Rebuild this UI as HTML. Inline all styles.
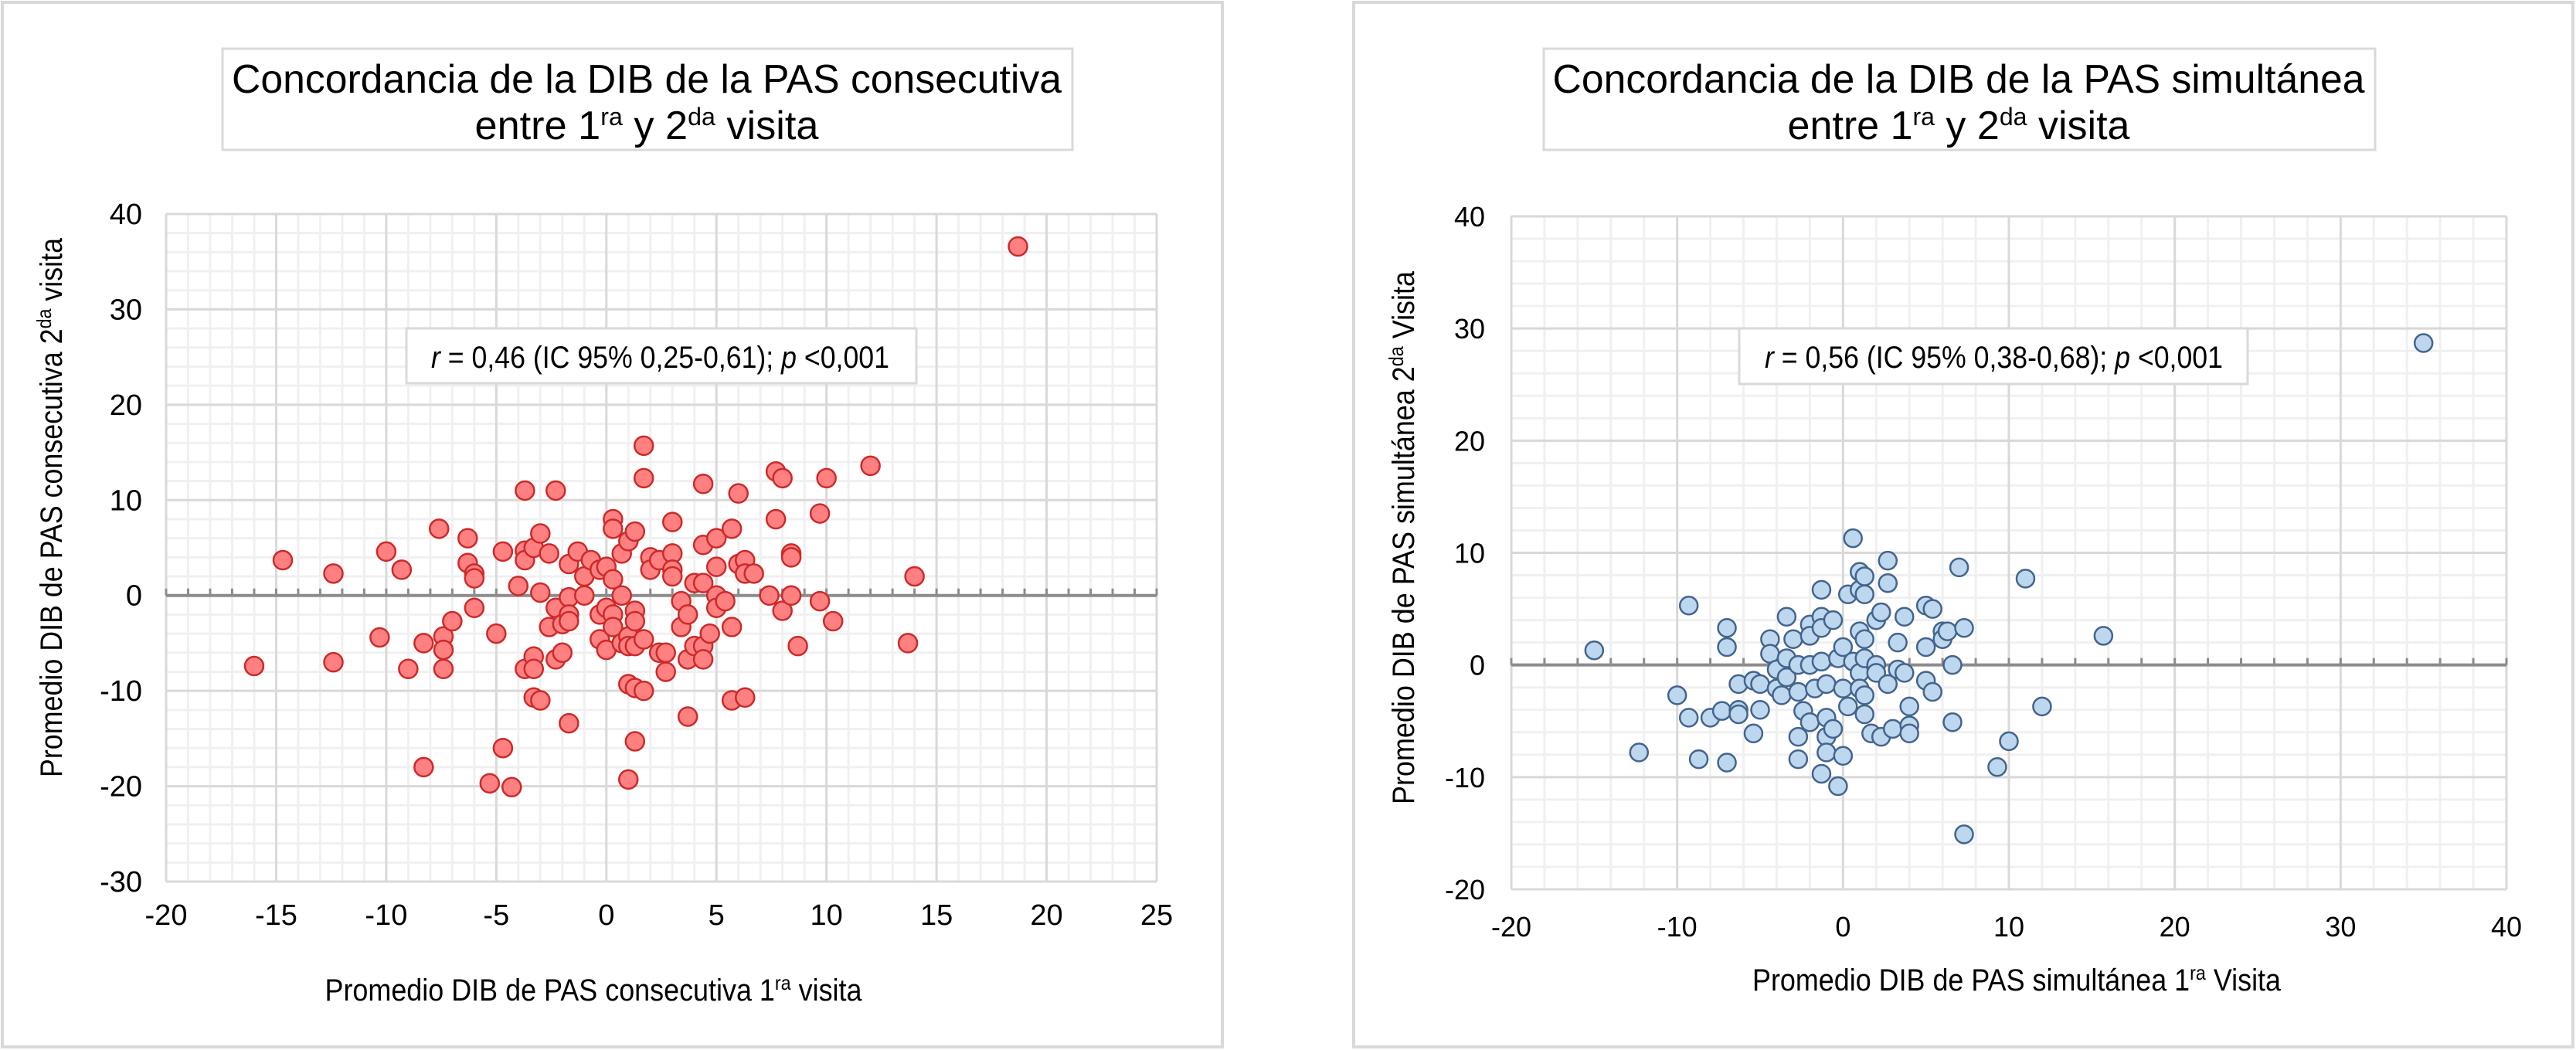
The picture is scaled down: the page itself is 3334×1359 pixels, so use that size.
<!DOCTYPE html>
<html><head><meta charset="utf-8"><style>
html,body{margin:0;padding:0;background:#fff;width:3334px;height:1359px;overflow:hidden}
svg{display:block;font-family:"Liberation Sans",Arial,sans-serif}
</style></head><body>
<svg id="svg" width="3334" height="1359" viewBox="0 0 3334 1359" xmlns="http://www.w3.org/2000/svg">
<rect x="3" y="3" width="1579" height="1352" fill="#fff" stroke="#d9d9d9" stroke-width="4"/>
<rect x="1752" y="3" width="1578" height="1352" fill="#fff" stroke="#d9d9d9" stroke-width="4"/>
<g id="gL"></g>
<g id="gR"></g>

<rect x="288" y="63" width="1100" height="131" fill="#fff" stroke="#d9d9d9" stroke-width="3"/>
<text x="837" y="120" font-size="52" text-anchor="middle" textLength="1074" lengthAdjust="spacingAndGlyphs">Concordancia de la DIB de la PAS consecutiva</text>
<text x="837" y="180" font-size="52" text-anchor="middle" textLength="445" lengthAdjust="spacingAndGlyphs">entre 1<tspan font-size="32" dy="-18">ra</tspan><tspan dy="18"> y 2</tspan><tspan font-size="32" dy="-18">da</tspan><tspan dy="18"> visita</tspan></text>

<rect x="1998" y="63" width="1076" height="131" fill="#fff" stroke="#d9d9d9" stroke-width="3"/>
<text x="2535" y="120" font-size="52" text-anchor="middle" textLength="1051" lengthAdjust="spacingAndGlyphs">Concordancia de la DIB de la PAS simultánea</text>
<text x="2535" y="180" font-size="52" text-anchor="middle" textLength="443" lengthAdjust="spacingAndGlyphs">entre 1<tspan font-size="32" dy="-18">ra</tspan><tspan dy="18"> y 2</tspan><tspan font-size="32" dy="-18">da</tspan><tspan dy="18"> visita</tspan></text>

<rect x="526" y="425" width="660" height="71" fill="#fff" stroke="#d9d9d9" stroke-width="3"/>
<text x="558" y="476" font-size="40" textLength="593" lengthAdjust="spacingAndGlyphs"><tspan font-style="italic">r</tspan> = 0,46 (IC 95% 0,25-0,61); <tspan font-style="italic">p</tspan> &lt;0,001</text>
<rect x="2251" y="425" width="658" height="72" fill="#fff" stroke="#d9d9d9" stroke-width="3"/>
<text x="2284" y="476" font-size="40" textLength="593" lengthAdjust="spacingAndGlyphs"><tspan font-style="italic">r</tspan> = 0,56 (IC 95% 0,38-0,68); <tspan font-style="italic">p</tspan> &lt;0,001</text>

<text x="768" y="1295" font-size="40" text-anchor="middle" textLength="695" lengthAdjust="spacingAndGlyphs">Promedio DIB de PAS consecutiva 1<tspan font-size="26" dy="-14">ra</tspan><tspan dy="14"> visita</tspan></text>
<text transform="translate(80,657) rotate(-90)" font-size="40" text-anchor="middle" textLength="698" lengthAdjust="spacingAndGlyphs">Promedio DIB de PAS consecutiva 2<tspan font-size="26" dy="-14">da</tspan><tspan dy="14"> visita</tspan></text>
<text x="2610" y="1282" font-size="40" text-anchor="middle" textLength="684" lengthAdjust="spacingAndGlyphs">Promedio DIB de PAS simultánea 1<tspan font-size="26" dy="-14">ra</tspan><tspan dy="14"> Visita</tspan></text>
<text transform="translate(1830,696) rotate(-90)" font-size="40" text-anchor="middle" textLength="690" lengthAdjust="spacingAndGlyphs">Promedio DIB de PAS simultánea 2<tspan font-size="26" dy="-14">da</tspan><tspan dy="14"> Visita</tspan></text>
</svg>
<script>
const leftX=[18.7,-14.7,-12.4,-16,-12.4,-10.3,-10,-9.3,-9,-8.3,-8.3,-7.6,-7.4,-7.4,-7.4,-7,-6.3,-6.3,-6,-6,-6,-5,-5.3,-4.7,-4.7,-4.3,-4,-3.7,-3.7,-3.7,-3.7,-3.3,-3.3,-3.3,-3.3,-3,-3,-3,-2.6,-2.6,-2.3,-2.3,-2.3,-2,-2,-1.7,-1.7,-1.7,-1.7,-1.7,-1.3,-1,-1,-0.7,-0.3,-0.3,-0.3,0,0,0,0.3,0.3,0.3,0.3,0.3,0.7,0.7,0.7,1,1,1,1,1,1.3,1.3,1.3,1.3,1.3,1.3,1.7,1.7,1.7,1.7,2,2,2.4,2.4,2.7,2.7,3,3,3,3,3.4,3.4,3.7,3.7,3.7,4,4,4.4,4.4,4.4,4.4,4.4,4.7,5,5,5,5,5.4,5.7,5.7,5.7,6,6,6.3,6.3,6.3,6.7,7.4,7.7,7.7,8,8,8.4,8.4,8.4,8.7,9.7,9.7,10,10.3,12,13.7,14];
const leftY=[36.6,3.7,2.3,-7.4,-7,-4.4,4.6,2.7,-7.7,-5,-18,7,-4.3,-5.7,-7.7,-2.7,6,3.4,2.3,1.8,-1.3,-4,-19.7,4.6,-16,-20.1,1,11,4.7,3.7,-7.7,5,-6.4,-7.7,-10.7,6.5,0.3,-11,4.4,-3.3,11,-1.3,-6.7,-3,-6,3.3,-0.2,-2,-2.7,-13.4,4.6,2,0,3.7,2.7,-2,-4.6,3,-1.3,-5.7,8,7,1.7,-2,-3.3,4.4,0,-5,5.7,-4.3,-5.3,-9.3,-19.3,6.7,-1.6,-2.7,-5.3,-9.7,-15.3,15.7,12.3,-4.6,-10,4,2.7,3.7,-6,-6,-8,7.7,4.4,2.7,2,-0.6,-3.3,-2,-6.7,-12.7,1.3,-5.3,11.7,5.3,1.3,-5.3,-6.7,-4,3,0,-1.3,6,-0.6,7,-3.3,-11,10.7,3.3,3.7,2.3,-10.7,2.3,0,13,8,12.3,-1.6,4.4,4,0,-5.3,8.6,-0.6,12.3,-2.7,13.6,-5,2];
const rightX=[35,-15,-12.3,-10,-9.3,-9.3,-8.7,-8,-7.3,-7,-7,-7,-6.3,-6.3,-6.3,-5.4,-5.4,-5,-5,-4.4,-4.4,-4,-4,-3.7,-3.4,-3.4,-3.4,-3,-2.7,-2.7,-2.7,-2.7,-2.4,-2,-2,-2,-2,-1.7,-1.3,-1.3,-1.3,-1.3,-1.3,-1,-1,-1,-1,-0.6,-0.6,-0.3,-0.3,0,0,0,0.3,0.3,0.6,0.6,1,1,1,1,1,1.3,1.3,1.3,1.3,1.3,1.3,1.7,2,2,2,2.3,2.3,2.7,2.7,2.7,3,3.3,3.3,3.7,3.7,4,4,4,5,5,5,5.4,5.4,6,6,6.3,6.6,6.6,7,7.3,7.3,9.3,10,11,12,15.7];
const rightY=[28.7,1.3,-7.8,-2.7,5.3,-4.7,-8.4,-4.7,-4.1,3.3,1.6,-8.7,-1.7,-4,-4.4,-1.4,-6.1,-1.7,-4,2.3,1,-0.4,-2.1,-2.7,4.3,0.6,-1.1,2.3,0,-2.4,-6.4,-8.4,-4.1,3.6,0,-5.1,2.6,-2.1,6.7,4.3,3.3,0.3,-9.7,-1.7,-4.7,-6.4,-7.8,4,-5.7,0.6,-10.8,1.6,-2.1,-8.1,6.3,-3.7,11.3,0.3,8.3,6.7,3,-0.7,-2.1,7.9,6.3,2.3,0.6,-2.7,-4.4,-6.1,4,0,-0.7,4.7,-6.4,9.3,7.3,-1.7,-5.7,2,-0.4,4.3,-0.7,-3.7,-5.4,-6.1,5.3,1.6,-1.4,5,-2.4,3,2.3,3,0,-5.1,8.7,3.3,-15.1,-9.1,-6.8,7.7,-3.7,2.6];
const leftXTicks=["-20","-15","-10","-5","0","5","10","15","20","25"];
const leftYTicks=["-30","-20","-10","0","10","20","30","40"];
const rightXTicks=["-20","-10","0","10","20","30","40"];
const rightYTicks=["-20","-10","0","10","20","30","40"];

const NS="http://www.w3.org/2000/svg";
function mk(parent,tag,attrs){const e=document.createElementNS(NS,tag);for(const k in attrs)e.setAttribute(k,attrs[k]);parent.appendChild(e);return e;}

function drawChart(g,prefix,xs,ys,xTicks,yTicks,box,xMinorStep,yMinorStep,zeroTickStep,mark,labelFont){
  const xt=xTicks.map(Number), yt=yTicks.map(Number);
  const xmin=xt[0],xmax=xt[xt.length-1],ymin=yt[0],ymax=yt[yt.length-1];
  const sx=v=>box.x0+(v-xmin)/(xmax-xmin)*(box.x1-box.x0);
  const sy=v=>box.y1-(v-ymin)/(ymax-ymin)*(box.y1-box.y0);
  // minor grid
  for(let v=xmin;v<=xmax+1e-9;v+=xMinorStep){
    const l=mk(g,'line',{x1:sx(v),x2:sx(v),y1:box.y0,y2:box.y1,stroke:'#f0f0f0','stroke-width':3});
    
    
  }
  for(let v=ymin;v<=ymax+1e-9;v+=yMinorStep){
    const l=mk(g,'line',{x1:box.x0,x2:box.x1,y1:sy(v),y2:sy(v),stroke:'#f0f0f0','stroke-width':3});
    
    
  }
  xt.forEach((v,i)=>{
    const l=mk(g,'line',{x1:sx(v),x2:sx(v),y1:box.y0,y2:box.y1,stroke:'#d9d9d9','stroke-width':3});
    
    
    const t=mk(g,'text',{x:sx(v),y:box.xLabelY,'font-size':labelFont,'text-anchor':'middle',fill:'#000'});
    t.textContent=xTicks[i];
    
    
  });
  yt.forEach((v,i)=>{
    const l=mk(g,'line',{x1:box.x0,x2:box.x1,y1:sy(v),y2:sy(v),stroke:'#d9d9d9','stroke-width':3});
    
    
    const t=mk(g,'text',{x:box.yLabelX,y:sy(v)+13,'font-size':labelFont,'text-anchor':'end',fill:'#000'});
    t.textContent=yTicks[i];
    
    
  });
  // zero axis line with ticks
  const z=sy(0);
  const zl=mk(g,'line',{x1:box.x0,x2:box.x1,y1:z,y2:z,stroke:'#8c8c8c','stroke-width':4});
  
  
  for(let v=xmin;v<=xmax+1e-9;v+=zeroTickStep){
    const tk=mk(g,'line',{x1:sx(v),x2:sx(v),y1:z-9,y2:z,stroke:'#8c8c8c','stroke-width':3});
    
    
  }
  xs.forEach((xv,i)=>{
    const c=mk(g,'circle',{cx:sx(xv),cy:sy(ys[i]),r:mark.r,fill:mark.fill,stroke:mark.stroke,'stroke-width':mark.sw});
    
    
  });
}
drawChart(document.getElementById('gL'),'left',leftX,leftY,leftXTicks,leftYTicks,
  {x0:215,x1:1497,y0:277,y1:1141,xLabelY:1197,yLabelX:184},1,2,1,
  {r:12,fill:'#ff8080',stroke:'#cc2a2a',sw:2.5},38);
drawChart(document.getElementById('gR'),'right',rightX,rightY,rightXTicks,rightYTicks,
  {x0:1956,x1:3244,y0:280,y1:1151,xLabelY:1212,yLabelX:1922},2,2,2,
  {r:11.5,fill:'#bdd7ee',stroke:'#44648c',sw:2.5},36);
</script>
</body></html>
